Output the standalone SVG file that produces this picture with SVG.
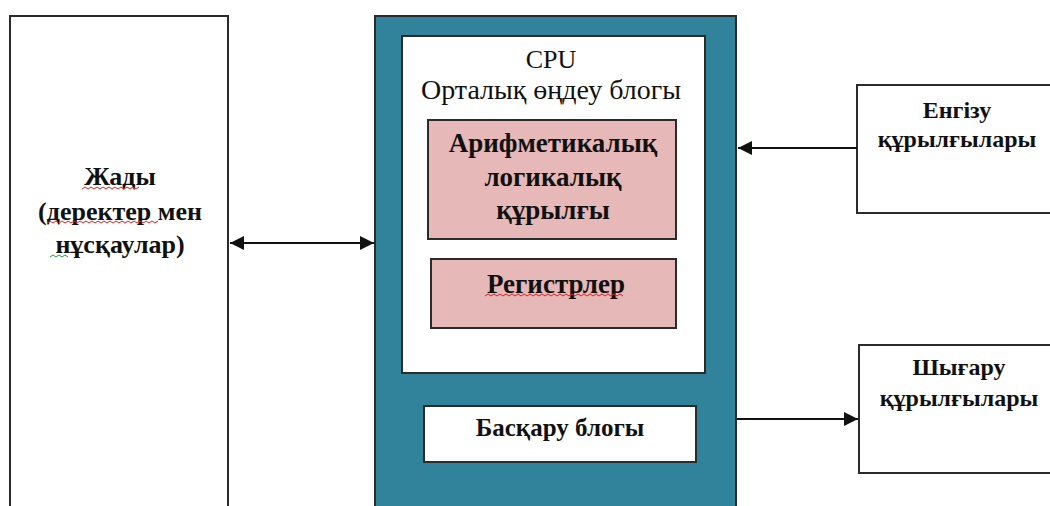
<svg xmlns="http://www.w3.org/2000/svg" width="1050" height="506" viewBox="0 0 1050 506">
<defs>
<style>
.box{stroke:#2b2b2b;stroke-width:2;}
.w{fill:#ffffff;}
.pink{fill:#e6b8b7;}
.teal{fill:#31839b;}
.b{font-family:"Liberation Serif","Times New Roman",serif;font-weight:bold;font-size:24px;fill:#111;text-anchor:middle;}
.r{font-family:"Liberation Serif","Times New Roman",serif;font-size:27px;fill:#111;text-anchor:middle;}
.big{font-size:27px;}
.mid{font-size:26px;}
.ln{stroke:#111;stroke-width:2;fill:none;}
.sq{stroke:#e02020;stroke-width:1;fill:none;}
.sqg{stroke:#22a040;stroke-width:1;fill:none;}
</style>
<marker id="ah" viewBox="0 0 10 10" refX="10" refY="5" markerWidth="7" markerHeight="7" orient="auto-start-reverse" markerUnits="strokeWidth">
<path d="M0,0 L10,5 L0,10 z" fill="#111"/>
</marker>
</defs>
<rect width="1050" height="506" fill="#ffffff"/>
<g id="memory">
<rect class="box w" x="10" y="16" width="218" height="500"/>
<text class="b mid" x="120" y="185">Жады</text>
<text class="b mid" x="120" y="220">(деректер мен</text>
<text class="b mid" x="120" y="253">нұсқаулар)</text>
<path class="sq" d="M82,189 l3,-2 l3,2 l3,-2 l3,2 l3,-2 l3,2 l3,-2 l3,2 l3,-2 l3,2 l3,-2 l3,2 l3,-2 l3,2 l3,-2 l3,2 l3,-2 l3,2 l3,-2"/>
<path class="sq" d="M47,223 l3,-2 l3,2 l3,-2 l3,2 l3,-2 l3,2 l3,-2 l3,2 l3,-2 l3,2 l3,-2 l3,2 l3,-2 l3,2 l3,-2 l3,2 l3,-2 l3,2 l3,-2 l3,2 l3,-2 l3,2 l3,-2 l3,2 l3,-2 l3,2 l3,-2 l3,2 l3,-2 l3,2 l3,-2 l3,2 l3,-2 l3,2 l3,-2 l3,2 l3,-2"/>
<path class="sqg" d="M50,257 l3,-2 l3,2 l3,-2 l3,2 l3,-2 l3,2"/>
</g>
<g id="cpu">
<rect class="box teal" x="375" y="16" width="361" height="500"/>
<rect class="box w" x="402" y="36" width="303" height="337"/>
<text class="r" x="551" y="68" style="font-size:26px">CPU</text>
<text class="r" x="551" y="99" textLength="260" lengthAdjust="spacingAndGlyphs">Орталық өңдеу блогы</text>
</g>
<g id="alu">
<rect class="box pink" x="428" y="120" width="248" height="119"/>
<text class="b big" x="553" y="152">Арифметикалық</text>
<text class="b big" x="553" y="186">логикалық</text>
<text class="b big" x="553" y="219">құрылғы</text>
</g>
<g id="registers">
<rect class="box pink" x="431" y="259" width="245" height="69"/>
<text class="b big" x="556" y="293">Регистрлер</text>
<path class="sq" d="M485,296 l3,-2 l3,2 l3,-2 l3,2 l3,-2 l3,2 l3,-2 l3,2 l3,-2 l3,2 l3,-2 l3,2 l3,-2 l3,2 l3,-2 l3,2 l3,-2 l3,2 l3,-2 l3,2 l3,-2 l3,2 l3,-2 l3,2 l3,-2 l3,2 l3,-2 l3,2 l3,-2 l3,2 l3,-2 l3,2 l3,-2 l3,2 l3,-2 l3,2 l3,-2 l3,2 l3,-2 l3,2 l3,-2 l3,2 l3,-2 l3,2 l3,-2 l3,2"/>
</g>
<g id="control">
<rect class="box w" x="424" y="406" width="272" height="56"/>
<text class="b" x="560" y="436" style="font-size:25px">Басқару блогы</text>
</g>
<g id="input">
<rect class="box w" x="857" y="85" width="210" height="128"/>
<text class="b" x="957" y="118">Енгізу</text>
<text class="b" x="957" y="147">құрылғылары</text>
</g>
<g id="output">
<rect class="box w" x="859" y="345" width="210" height="128"/>
<text class="b" x="959" y="375">Шығару</text>
<text class="b" x="959" y="406">құрылғылары</text>
</g>
<g id="connectors">
<line class="ln" x1="230" y1="243" x2="374" y2="243" marker-start="url(#ah)" marker-end="url(#ah)"/>
<line class="ln" x1="857" y1="148" x2="738" y2="148" marker-end="url(#ah)"/>
<line class="ln" x1="737" y1="419" x2="858" y2="419" marker-end="url(#ah)"/>
</g>
</svg>
